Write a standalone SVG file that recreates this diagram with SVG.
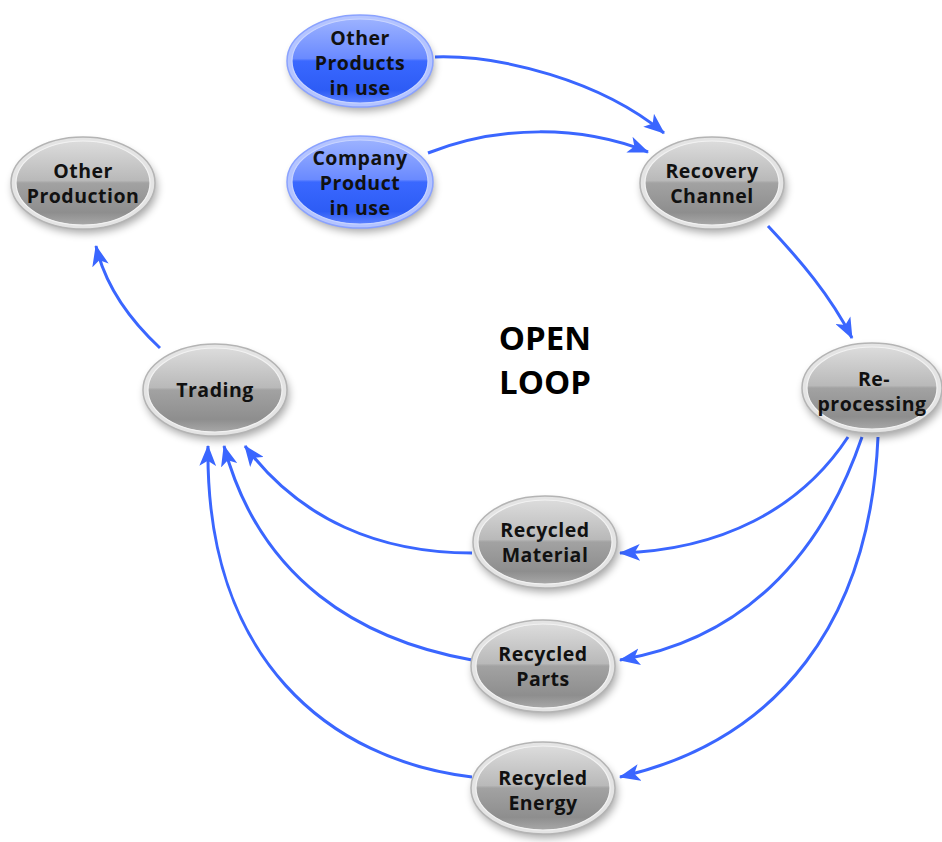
<svg xmlns="http://www.w3.org/2000/svg" width="942" height="842" viewBox="0 0 942 842">
<defs>
<linearGradient id="gGray" x1="0" y1="0" x2="0" y2="1">
<stop offset="0" stop-color="#dcdcdc"/>
<stop offset="0.47" stop-color="#b9b9b9"/>
<stop offset="0.5" stop-color="#a2a2a2"/>
<stop offset="0.85" stop-color="#8e8e8e"/>
<stop offset="1" stop-color="#a8a8a8"/>
</linearGradient>
<linearGradient id="gBlue" x1="0" y1="0" x2="0" y2="1">
<stop offset="0" stop-color="#9cb2ff"/>
<stop offset="0.47" stop-color="#6a8aff"/>
<stop offset="0.5" stop-color="#3a68ff"/>
<stop offset="0.85" stop-color="#2d5cf5"/>
<stop offset="1" stop-color="#5a80ff"/>
</linearGradient>
<filter id="shadow" x="-30%" y="-30%" width="160%" height="170%">
<feGaussianBlur stdDeviation="4"/>
</filter>
<marker id="arrow" viewBox="0 0 20 16" refX="19" refY="8" markerWidth="21" markerHeight="17" markerUnits="userSpaceOnUse" orient="auto">
<path d="M0,0 L20,8 L0,16 L5,8 Z" fill="#3a66ff"/>
</marker>
</defs>
<style>
.sh{fill:#000;opacity:0.35;filter:url(#shadow)}
.rimG{fill:#e4e4e4;stroke:#b4b4b4;stroke-width:1.5}
.rimB{fill:#b4c4ff;stroke:#8aa2ff;stroke-width:1.5}
.bodyG{fill:url(#gGray);stroke:#f2f2f2;stroke-width:1.2}
.bodyB{fill:url(#gBlue);stroke:#c8d4ff;stroke-width:1.2}
.t{font-family:"Open Sans",Lato,"Liberation Sans",sans-serif;font-weight:bold;font-size:19.5px;letter-spacing:0.5px;fill:#111;text-anchor:middle}
.big{font-family:"Open Sans",Lato,"Liberation Sans",sans-serif;font-weight:bold;font-size:33px;fill:#000;text-anchor:middle}
.c{fill:none;stroke:#3a66ff;stroke-width:3;marker-end:url(#arrow)}
</style>
<rect width="942" height="842" fill="#fff"/>

<g id="connectors">
<path class="c" d="M435,57 C500,55 600,80 664,133"/>
<path class="c" d="M428,153 C500,125 580,125 648,152"/>
<path class="c" d="M768,226 C800,260 830,295 852,338"/>
<path class="c" d="M160,348 C130,320 105,285 96,246"/>
<path class="c" d="M848,437 C800,510 720,550 620,553"/>
<path class="c" d="M862,437 C820,560 740,640 620,660"/>
<path class="c" d="M878,437 C870,620 780,740 620,777"/>
<path class="c" d="M472,553 C380,553 300,520 245,446"/>
<path class="c" d="M472,660 C360,640 260,580 224,446"/>
<path class="c" d="M472,777 C330,760 205,660 208,446"/>
</g>

<g id="other-products">
<ellipse class="sh" cx="362" cy="66" rx="72" ry="45"/>
<ellipse class="rimB" cx="360" cy="61" rx="73" ry="46"/>
<ellipse class="bodyB" cx="360" cy="61" rx="68" ry="42"/>
<text class="t" x="360" y="45">Other</text>
<text class="t" x="360" y="70">Products</text>
<text class="t" x="360" y="95">in use</text>
</g>

<g id="company-product">
<ellipse class="sh" cx="362" cy="187" rx="72" ry="45"/>
<ellipse class="rimB" cx="360" cy="182" rx="73" ry="46"/>
<ellipse class="bodyB" cx="360" cy="182" rx="68" ry="42"/>
<text class="t" x="360" y="165">Company</text>
<text class="t" x="360" y="190">Product</text>
<text class="t" x="360" y="215">in use</text>
</g>

<g id="other-production">
<ellipse class="sh" cx="85" cy="188" rx="72" ry="45"/>
<ellipse class="rimG" cx="83" cy="183" rx="72" ry="46"/>
<ellipse class="bodyG" cx="83" cy="183" rx="67" ry="42"/>
<text class="t" x="83" y="178">Other</text>
<text class="t" x="83" y="203">Production</text>
</g>

<g id="recovery-channel">
<ellipse class="sh" cx="714" cy="188" rx="72" ry="45"/>
<ellipse class="rimG" cx="712" cy="183" rx="72" ry="46"/>
<ellipse class="bodyG" cx="712" cy="183" rx="67" ry="42"/>
<text class="t" x="712" y="178">Recovery</text>
<text class="t" x="712" y="203">Channel</text>
</g>

<g id="trading">
<ellipse class="sh" cx="217" cy="395" rx="72" ry="45"/>
<ellipse class="rimG" cx="215" cy="390" rx="72" ry="46"/>
<ellipse class="bodyG" cx="215" cy="390" rx="67" ry="42"/>
<text class="t" x="215" y="397">Trading</text>
</g>

<g id="reprocessing">
<ellipse class="sh" cx="874" cy="393" rx="70" ry="45"/>
<ellipse class="rimG" cx="872" cy="388" rx="70" ry="45"/>
<ellipse class="bodyG" cx="872" cy="388" rx="65" ry="41"/>
<text class="t" x="874" y="386">Re-</text>
<text class="t" x="872" y="411">processing</text>
</g>

<g id="recycled-material">
<ellipse class="sh" cx="547" cy="547" rx="72" ry="45"/>
<ellipse class="rimG" cx="545" cy="542" rx="72" ry="46"/>
<ellipse class="bodyG" cx="545" cy="542" rx="67" ry="42"/>
<text class="t" x="545" y="537">Recycled</text>
<text class="t" x="545" y="562">Material</text>
</g>

<g id="recycled-parts">
<ellipse class="sh" cx="545" cy="671" rx="72" ry="45"/>
<ellipse class="rimG" cx="543" cy="666" rx="72" ry="46"/>
<ellipse class="bodyG" cx="543" cy="666" rx="67" ry="42"/>
<text class="t" x="543" y="661">Recycled</text>
<text class="t" x="543" y="686">Parts</text>
</g>

<g id="recycled-energy">
<ellipse class="sh" cx="545" cy="793" rx="72" ry="45"/>
<ellipse class="rimG" cx="543" cy="788" rx="72" ry="46"/>
<ellipse class="bodyG" cx="543" cy="788" rx="67" ry="42"/>
<text class="t" x="543" y="785">Recycled</text>
<text class="t" x="543" y="810">Energy</text>
</g>

<g id="title">
<text class="big" x="545" y="350">OPEN</text>
<text class="big" x="545" y="394">LOOP</text>
</g>
</svg>
